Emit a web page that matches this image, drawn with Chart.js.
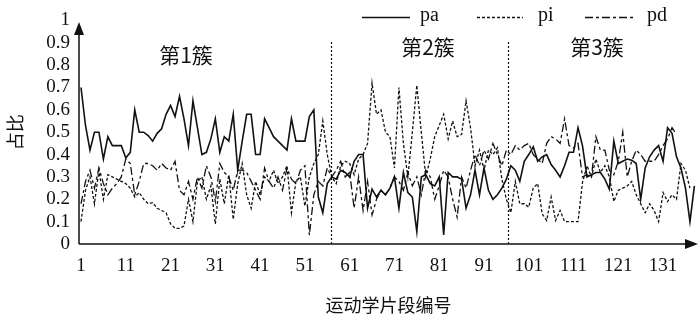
<!DOCTYPE html>
<html>
<head>
<meta charset="utf-8">
<script src="https://cdn.jsdelivr.net/npm/chart.js@4.4.1/dist/chart.umd.min.js"></script>
<style>
  html, body { margin: 0; padding: 0; background: #fff; }
  #wrap { width: 700px; height: 327px; }
</style>
</head>
<body>
<div id="wrap"><canvas id="chart"></canvas></div>
<script>
const xTicks = [1, 11, 21, 31, 41, 51, 61, 71, 81, 91, 101, 111, 121, 131];
const yTicks = [0, 0.1, 0.2, 0.3, 0.4, 0.5, 0.6, 0.7, 0.8, 0.9, 1];
const yLabels = ["0", "0.1", "0.2", "0.3", "0.4", "0.5", "0.6", "0.7", "0.8", "0.9", "1"];
const seriesNames = ["pa", "pi", "pd"];
const clusterNames = ["第1簇", "第2簇", "第3簇"];
const clusterEdges = [56.9, 96.3];

const pa = [
    0.70, 0.53, 0.42, 0.50, 0.50, 0.38, 0.48, 0.44, 0.44, 0.44, 0.385, 0.41, 0.60, 0.50, 0.50, 0.485, 0.46, 0.495, 0.515, 0.58,
    0.62, 0.57, 0.66, 0.56, 0.44, 0.64, 0.52, 0.40, 0.41, 0.47, 0.56, 0.41, 0.48, 0.46, 0.58, 0.33, 0.46, 0.58, 0.58,
    0.40, 0.40, 0.56, 0.52, 0.48, 0.46, 0.44, 0.42, 0.56, 0.46, 0.46, 0.46, 0.57, 0.60,
    0.21, 0.14, 0.27, 0.30, 0.29, 0.33, 0.32, 0.30, 0.37, 0.40, 0.40, 0.16, 0.245, 0.21, 0.24, 0.22, 0.25, 0.30, 0.16, 0.32,
    0.23, 0.21, 0.055, 0.30, 0.31, 0.27, 0.26, 0.30, 0.04, 0.32,
    0.30, 0.30, 0.29, 0.16, 0.22, 0.33, 0.22, 0.34, 0.24, 0.20, 0.22, 0.25, 0.29,
    0.35, 0.33, 0.28, 0.37, 0.40, 0.435, 0.37, 0.39, 0.40, 0.355, 0.33, 0.30, 0.35, 0.41, 0.41, 0.52, 0.44, 0.30, 0.31, 0.32,
    0.32, 0.29, 0.245, 0.46, 0.36, 0.37, 0.38, 0.375, 0.36, 0.20, 0.34, 0.39, 0.42, 0.44, 0.37, 0.52, 0.495, 0.39, 0.34, 0.25,
    0.10, 0.26
];

const pi = [
    0.10, 0.24, 0.30, 0.18, 0.33, 0.20, 0.31, 0.30, 0.29, 0.28, 0.27, 0.25, 0.21, 0.23, 0.20, 0.18, 0.185, 0.16, 0.15, 0.14,
    0.09, 0.07, 0.07, 0.08, 0.20, 0.10, 0.28, 0.30, 0.20, 0.26, 0.09, 0.29, 0.18, 0.31, 0.11, 0.27, 0.36, 0.22, 0.16, 0.28,
    0.22, 0.30, 0.28, 0.33, 0.27, 0.30, 0.35, 0.14, 0.28, 0.30, 0.17, 0.30, 0.36, 0.40, 0.55, 0.40, 0.30,
    0.27, 0.35, 0.37, 0.36, 0.31, 0.38, 0.40, 0.45, 0.72, 0.58, 0.60, 0.50, 0.48, 0.34, 0.70, 0.45, 0.30, 0.50, 0.71,
    0.50, 0.30, 0.38, 0.48, 0.53, 0.58, 0.47, 0.55, 0.48, 0.49, 0.64, 0.52, 0.35, 0.42, 0.33, 0.42, 0.40, 0.43, 0.29,
    0.20, 0.14, 0.28, 0.18, 0.18, 0.165, 0.25, 0.27, 0.135, 0.105, 0.21, 0.105, 0.15, 0.10, 0.10, 0.10, 0.10,
    0.275, 0.35, 0.30, 0.38, 0.32, 0.35, 0.30,
    0.19, 0.24, 0.25, 0.26, 0.28, 0.22, 0.18, 0.14, 0.18, 0.15, 0.10, 0.23, 0.19, 0.22, 0.20, 0.36, 0.33, 0.25
];

const pd = [
    0.18, 0.28, 0.33, 0.25, 0.34, 0.27, 0.22, 0.25, 0.27, 0.30, 0.38, 0.36, 0.22, 0.28, 0.36, 0.36, 0.35, 0.33, 0.36, 0.34,
    0.33, 0.37, 0.24, 0.22, 0.28, 0.20, 0.30, 0.25, 0.35, 0.30, 0.19, 0.36, 0.32, 0.30, 0.24, 0.33, 0.33, 0.32, 0.28, 0.24,
    0.20, 0.34, 0.28, 0.25, 0.30, 0.24, 0.34, 0.29, 0.27, 0.33, 0.35, 0.04, 0.22, 0.28, 0.26, 0.34, 0.30,
    0.33, 0.37, 0.30, 0.32, 0.16, 0.30, 0.15, 0.28, 0.13, 0.20, 0.24, 0.22, 0.25, 0.30, 0.28, 0.24, 0.32, 0.26, 0.30,
    0.22, 0.33, 0.30, 0.20, 0.26, 0.33, 0.30, 0.20, 0.12, 0.30, 0.25, 0.33, 0.40, 0.35, 0.42, 0.38, 0.45, 0.40, 0.35, 0.42,
    0.40, 0.44, 0.42, 0.44, 0.45, 0.40, 0.38, 0.36, 0.45, 0.48, 0.47, 0.45, 0.56, 0.44, 0.43, 0.45, 0.30, 0.31, 0.30, 0.48,
    0.42, 0.42, 0.33, 0.31, 0.37, 0.50, 0.30, 0.37, 0.42, 0.40, 0.37, 0.37, 0.37, 0.40, 0.44, 0.47, 0.52, 0.49
];

const ink = "#111";
const serif = "'Liberation Serif', 'DejaVu Serif', serif";
const cjk = "'Noto Sans CJK SC', sans-serif";
const dashes = { pa: [], pi: [3, 2], pd: [8, 3, 3, 3] };
const widths = { pa: 1.6, pi: 1.3, pd: 1.3 };

const toPoints = (arr) => arr.map((v, i) => ({ x: i + 1, y: v }));

const datasets = [pa, pi, pd].map((arr, k) => ({
    label: seriesNames[k],
    data: toPoints(arr),
    borderColor: ink,
    borderWidth: widths[seriesNames[k]],
    borderDash: dashes[seriesNames[k]],
    pointRadius: 0,
    tension: 0,
    fill: false
}));

function arrow(ctx, x, y, dir) {
    const len = 13, half = 5;
    ctx.beginPath();
    if (dir === "up") {
        ctx.moveTo(x, y);
        ctx.lineTo(x - half, y + len);
        ctx.lineTo(x + half, y + len);
    } else {
        ctx.moveTo(x, y);
        ctx.lineTo(x - len, y - half);
        ctx.lineTo(x - len, y + half);
    }
    ctx.closePath();
    ctx.fill();
}

const decor = {
    id: "decor",
    afterDatasetsDraw(chart) {
        const { ctx, chartArea, scales } = chart;
        const x0 = chartArea.left, y0 = chartArea.bottom;
        ctx.save();
        ctx.strokeStyle = ink;
        ctx.fillStyle = ink;

        // axes with arrow heads
        ctx.lineWidth = 1.5;
        ctx.setLineDash([]);
        ctx.beginPath();
        ctx.moveTo(x0, y0);
        ctx.lineTo(x0, 30);
        ctx.moveTo(x0, y0);
        ctx.lineTo(chartArea.right - 8, y0);
        ctx.stroke();
        arrow(ctx, x0, 22, "up");
        arrow(ctx, chartArea.right, y0, "right");

        // cluster separators
        ctx.lineWidth = 1.2;
        ctx.setLineDash([2, 2]);
        clusterEdges.forEach((v) => {
            const px = Math.round(scales.x.getPixelForValue(v)) + 0.5;
            ctx.beginPath();
            ctx.moveTo(px, 42);
            ctx.lineTo(px, y0);
            ctx.stroke();
        });

        // cluster names
        ctx.setLineDash([]);
        ctx.font = "21px " + cjk;
        ctx.textAlign = "center";
        ctx.textBaseline = "middle";
        const namePos = [[186, 55], [428, 47], [597, 47]];
        clusterNames.forEach((t, k) => ctx.fillText(t, namePos[k][0], namePos[k][1]));

        // legend
        const legendPos = [[362, 410, 420], [477, 523, 538], [585, 634, 647]];
        ctx.font = "20px " + serif;
        ctx.textAlign = "left";
        seriesNames.forEach((name, k) => {
            const [a, b, t] = legendPos[k];
            ctx.lineWidth = widths[name];
            ctx.setLineDash(dashes[name]);
            ctx.beginPath();
            ctx.moveTo(a, 17.5);
            ctx.lineTo(b, 17.5);
            ctx.stroke();
            ctx.fillText(name, t, 16);
        });
        ctx.restore();
    }
};

new Chart(document.getElementById("chart"), {
    type: "line",
    data: { datasets },
    plugins: [decor],
    options: {
        responsive: true,
        maintainAspectRatio: false,
        animation: false,
        layout: { padding: { top: 17, right: 2, left: 0, bottom: 0 } },
        plugins: { legend: { display: false }, tooltip: { enabled: false } },
        scales: {
            x: {
                type: "linear",
                min: 0.55,
                max: 138.8,
                border: { display: false },
                grid: { display: false, drawTicks: false },
                afterBuildTicks: (s) => { s.ticks = xTicks.map((v) => ({ value: v })); },
                afterFit: (s) => { s.height = 83; },
                ticks: {
                    color: ink,
                    autoSkip: false,
                    maxRotation: 0,
                    padding: 11,
                    font: { family: serif, size: 19 }
                },
                title: {
                    display: true,
                    text: "运动学片段编号",
                    color: ink,
                    font: { family: cjk, size: 18 },
                    padding: { top: 0, bottom: 11 }
                }
            },
            y: {
                min: 0,
                max: 1,
                border: { display: false },
                grid: { display: false, drawTicks: false },
                afterBuildTicks: (s) => { s.ticks = yTicks.map((v) => ({ value: v })); },
                afterFit: (s) => { s.width = 79; },
                ticks: {
                    color: ink,
                    autoSkip: false,
                    padding: 9,
                    font: { family: serif, size: 19 },
                    callback: (v) => yLabels[yTicks.indexOf(v)] ?? ""
                },
                title: {
                    display: true,
                    text: "占比",
                    color: ink,
                    font: { family: cjk, size: 18 },
                    padding: { top: 4, bottom: 0 }
                }
            }
        }
    }
});
</script>
</body>
</html>
